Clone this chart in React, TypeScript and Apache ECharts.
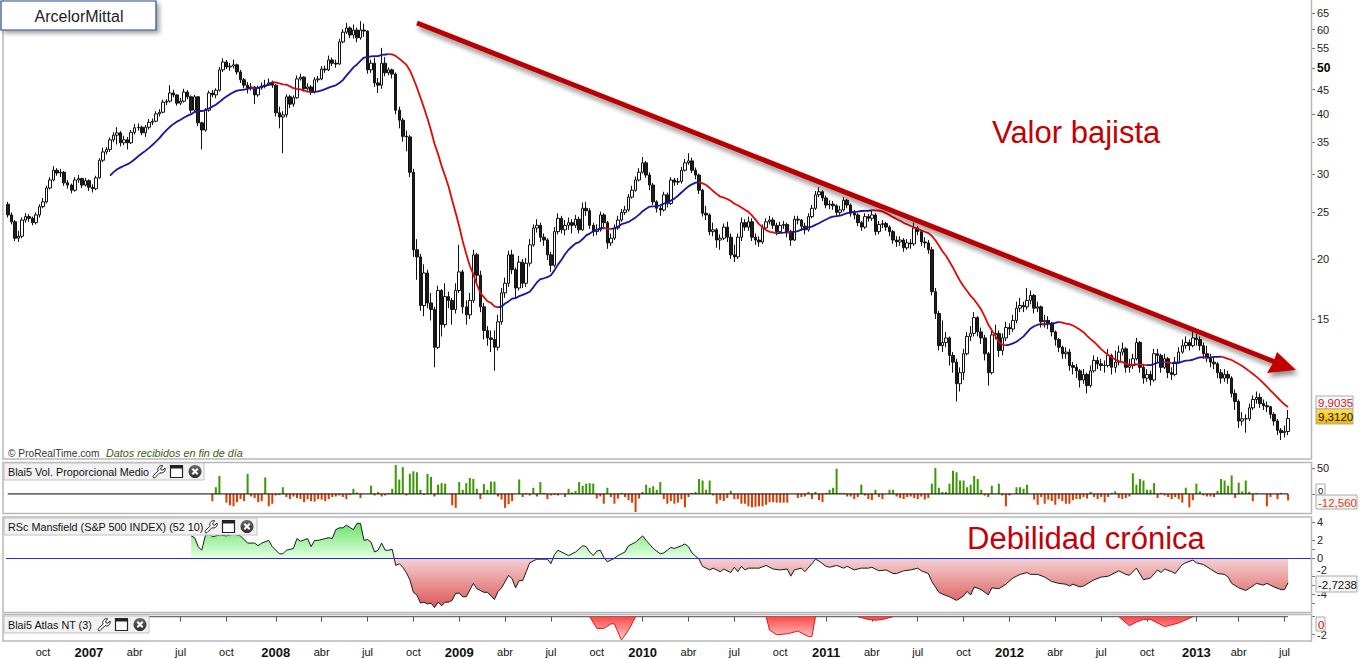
import React, { useEffect, useRef } from 'react';
import * as echarts from 'echarts';

const FONT = "'Liberation Sans', Arial, sans-serif";

// ---------- categories: weekly bars starting 2006-07-24 ----------
const START_UTC = Date.UTC(2006, 6, 24);
const N_WEEKS = 364;
const N_SLOTS = 370; // a few empty weeks at the right edge
const MONTHS = ['ene', 'feb', 'mar', 'abr', 'may', 'jun', 'jul', 'ago', 'sep', 'oct', 'nov', 'dic'];

// ---------- price data (weekly) ----------
const FIRST_OPEN = 26.0;
const closes = [
  24.7, 23.9, 22.1, 22.3, 24.1, 24.5, 24.3, 23.8, 24.7, 25.7,
  26.3, 28.1, 29.2, 30.6, 30.2, 30.3, 28.8, 28.5, 27.8, 29.2,
  29.4, 28.5, 29.1, 28.2, 28.0, 29.5, 32.1, 33.4, 33.8, 35.4,
  36.2, 36.6, 34.9, 35.4, 34.9, 36.7, 37.5, 37.6, 36.6, 37.6,
  38.5, 38.7, 40.1, 40.4, 42.4, 42.6, 44.3, 43.9, 42.2, 42.6,
  44.5, 43.5, 40.8, 43.5, 38.4, 37.1, 40.8, 44.3, 43.9, 44.9,
  49.5, 51.4, 50.2, 50.4, 50.7, 49.0, 47.2, 46.0, 45.4, 45.6,
  43.9, 45.4, 45.8, 46.0, 46.5, 46.0, 40.3, 39.5, 39.9, 43.5,
  42.0, 43.3, 47.4, 47.8, 45.2, 45.6, 44.5, 47.2, 47.4, 49.7,
  49.5, 51.9, 51.1, 50.9, 56.6, 59.3, 60.5, 58.5, 59.9, 57.7,
  59.9, 59.6, 49.5, 51.1, 46.5, 46.0, 51.1, 48.8, 49.5, 48.5,
  40.8, 38.9, 36.0, 35.9, 30.3, 20.9, 20.2, 16.0, 18.7, 16.2,
  15.7, 13.1, 17.2, 14.6, 16.7, 16.4, 15.7, 17.2, 18.8, 15.9,
  15.3, 16.4, 20.4, 18.5, 15.9, 14.2, 13.7, 13.6, 13.1, 14.8,
  17.0, 17.8, 20.4, 19.0, 17.4, 19.7, 17.8, 19.6, 21.4, 23.2,
  23.5, 22.2, 21.9, 20.4, 19.4, 22.8, 24.3, 23.0, 23.5, 23.8,
  23.5, 24.2, 23.0, 25.5, 25.2, 23.5, 22.8, 23.0, 24.7, 23.8,
  21.6, 22.1, 23.2, 24.1, 25.0, 25.3, 26.9, 27.8, 29.2, 30.3,
  31.7, 29.9, 28.5, 26.3, 25.5, 25.3, 27.2, 26.1, 29.2, 28.9,
  29.0, 30.6, 31.7, 32.0, 30.6, 29.9, 27.8, 24.9, 24.7, 22.8,
  23.0, 21.9, 22.1, 23.3, 22.2, 20.4, 20.2, 22.2, 23.8, 23.3,
  23.9, 22.2, 21.9, 21.7, 23.2, 23.9, 24.1, 23.5, 22.8, 23.5,
  23.6, 22.8, 21.9, 24.2, 24.1, 23.4, 23.0, 24.5, 25.5, 27.2,
  27.6, 26.8, 25.9, 26.0, 25.8, 25.0, 25.3, 26.5, 25.9, 24.9,
  24.7, 23.8, 23.3, 24.5, 24.3, 24.7, 22.8, 23.6, 23.7, 23.3,
  22.8, 21.9, 21.7, 21.9, 21.1, 21.6, 21.5, 23.2, 22.8, 21.7,
  21.6, 20.9, 17.1, 15.4, 13.2, 13.4, 13.7, 12.6, 12.2, 11.0,
  11.6, 12.7, 13.8, 14.0, 15.1, 14.1, 13.7, 12.7, 11.6, 13.9,
  14.0, 12.9, 13.7, 14.4, 14.3, 14.9, 15.8, 16.0, 15.9, 16.4,
  16.8, 15.8, 15.9, 14.8, 14.9, 14.7, 14.1, 13.6, 13.1, 12.7,
  12.8, 12.0, 11.9, 11.7, 11.2, 11.5, 10.9, 11.7, 12.3, 12.1,
  12.0, 12.0, 12.6, 11.9, 12.2, 12.8, 13.0, 11.9, 12.0, 12.4,
  13.4, 11.9, 11.3, 11.5, 11.2, 12.7, 12.6, 11.9, 12.4, 11.6,
  11.5, 12.2, 12.8, 13.2, 13.4, 13.2, 13.7, 13.6, 13.2, 12.7,
  12.5, 12.2, 12.1, 11.6, 11.3, 11.5, 11.3, 10.5, 10.1, 9.2,
  9.3, 9.3, 9.8, 10.2, 10.3, 10.0, 9.9, 9.85, 9.5, 9.2,
  8.8, 8.7, 8.75, 9.31,
];
const highs = [
  26.3, 25.0, 24.1, 22.9, 24.4, 24.9, 24.8, 24.5, 25.0, 26.0,
  26.8, 28.4, 29.6, 31.2, 30.9, 30.8, 30.5, 29.2, 28.7, 29.6,
  29.9, 29.5, 29.5, 29.3, 28.6, 29.8, 32.4, 34.1, 34.2, 35.8,
  36.7, 37.6, 36.9, 36.1, 35.9, 37.1, 38.2, 38.3, 37.9, 38.0,
  39.1, 39.2, 40.6, 41.0, 42.9, 43.0, 46.0, 45.0, 44.0, 43.3,
  45.2, 44.9, 43.8, 43.9, 43.6, 38.6, 41.2, 44.8, 45.0, 45.3,
  50.2, 52.3, 51.9, 51.2, 52.0, 51.0, 49.5, 47.6, 46.7, 46.5,
  45.8, 45.9, 46.6, 47.2, 47.5, 47.0, 46.3, 41.5, 40.6, 44.0,
  43.9, 43.8, 48.2, 48.6, 48.0, 46.4, 46.0, 47.8, 48.1, 50.4,
  50.5, 53.0, 52.5, 52.0, 57.4, 60.2, 62.0, 61.0, 61.5, 60.6,
  62.5, 61.8, 59.8, 52.0, 52.5, 47.6, 55.0, 52.6, 50.1, 49.8,
  48.9, 41.5, 39.3, 37.0, 36.2, 30.8, 22.0, 20.5, 19.5, 19.0,
  17.0, 15.9, 17.6, 17.3, 17.8, 17.1, 16.6, 17.8, 21.4, 19.0,
  16.4, 17.0, 20.9, 20.6, 18.9, 16.2, 14.5, 14.2, 14.2, 15.3,
  17.4, 18.3, 20.8, 20.9, 19.2, 20.3, 20.0, 20.1, 22.0, 23.6,
  24.2, 23.8, 22.6, 22.1, 20.7, 23.3, 24.9, 24.6, 24.1, 24.4,
  24.2, 24.7, 24.5, 26.2, 26.3, 25.5, 23.8, 23.6, 25.1, 24.9,
  24.0, 22.6, 23.6, 24.6, 25.4, 25.8, 27.3, 28.4, 29.7, 30.9,
  32.6, 32.0, 30.3, 28.8, 26.5, 25.9, 27.6, 27.5, 29.6, 29.5,
  29.5, 31.1, 32.3, 33.2, 32.5, 31.0, 30.1, 28.0, 25.8, 24.9,
  23.8, 23.2, 22.5, 23.7, 23.9, 22.6, 21.4, 22.6, 24.4, 24.2,
  24.5, 24.3, 22.6, 22.3, 23.6, 24.3, 24.6, 24.4, 23.8, 23.9,
  24.0, 23.8, 23.0, 24.6, 24.6, 24.2, 23.8, 24.9, 25.9, 27.7,
  28.2, 27.8, 27.1, 26.5, 26.4, 26.0, 25.8, 26.9, 26.7, 26.1,
  25.3, 24.9, 24.0, 24.9, 24.8, 25.2, 24.9, 24.0, 24.1, 23.9,
  23.5, 23.0, 22.3, 22.3, 22.1, 22.0, 22.0, 23.8, 23.4, 23.0,
  22.2, 21.9, 21.2, 17.4, 15.6, 14.9, 14.1, 13.8, 12.8, 12.4,
  11.9, 13.0, 14.1, 14.5, 15.5, 15.2, 14.4, 13.9, 12.8, 14.2,
  14.6, 14.2, 14.0, 14.8, 14.7, 15.3, 16.3, 16.6, 16.3, 17.4,
  17.2, 16.9, 16.3, 16.0, 15.3, 15.2, 14.8, 14.2, 13.7, 13.2,
  13.1, 13.0, 12.2, 12.1, 11.8, 11.8, 11.6, 12.0, 12.6, 12.5,
  12.4, 12.3, 13.0, 12.7, 12.9, 13.2, 13.4, 13.1, 12.4, 12.7,
  13.7, 13.5, 12.1, 11.8, 11.7, 13.0, 13.0, 12.7, 12.7, 12.5,
  11.9, 12.5, 13.1, 13.6, 13.8, 13.6, 14.3, 14.0, 13.8, 13.4,
  13.2, 12.7, 12.5, 12.2, 11.8, 11.8, 11.7, 11.4, 10.7, 10.2,
  9.6, 9.5, 10.0, 10.4, 10.6, 10.5, 10.2, 10.1, 9.9, 9.6,
  9.3, 8.9, 9.0, 9.7,
];
const lows = [
  24.4, 23.6, 21.8, 21.7, 22.1, 23.8, 23.9, 23.5, 23.6, 24.4,
  25.5, 26.1, 27.9, 29.0, 29.8, 29.6, 28.4, 28.0, 27.4, 27.6,
  28.8, 28.1, 28.3, 27.7, 27.5, 27.8, 29.4, 31.8, 33.0, 33.4,
  35.0, 34.6, 34.3, 34.5, 33.8, 34.7, 36.3, 37.0, 36.2, 35.9,
  37.2, 38.0, 38.5, 39.6, 40.2, 41.8, 42.3, 43.4, 41.7, 41.8,
  42.3, 43.0, 40.2, 40.3, 37.8, 33.8, 36.8, 40.5, 43.4, 43.2,
  44.6, 49.0, 49.7, 49.3, 49.8, 48.4, 46.5, 45.3, 44.2, 44.8,
  42.0, 43.5, 45.0, 45.3, 45.8, 45.4, 39.6, 37.4, 33.2, 39.4,
  41.2, 41.5, 43.1, 47.0, 44.6, 44.8, 43.9, 44.2, 46.6, 47.1,
  48.8, 49.2, 50.4, 50.0, 50.7, 56.2, 58.8, 57.6, 57.5, 56.5,
  57.2, 58.0, 48.6, 48.8, 45.6, 44.3, 45.2, 48.0, 48.2, 47.5,
  40.0, 37.4, 35.1, 33.5, 29.6, 20.2, 18.1, 15.6, 15.2, 15.8,
  14.9, 11.9, 13.0, 13.8, 14.4, 15.8, 14.6, 15.4, 17.0, 15.4,
  14.6, 15.0, 16.2, 17.9, 15.5, 13.6, 13.2, 12.8, 11.7, 12.9,
  14.6, 16.6, 17.5, 18.6, 16.5, 17.2, 17.4, 17.5, 19.3, 21.2,
  22.7, 21.7, 21.3, 19.9, 18.8, 19.2, 22.5, 22.6, 22.4, 23.0,
  22.6, 23.2, 22.6, 22.9, 24.6, 23.1, 22.3, 22.4, 22.8, 23.3,
  21.0, 21.3, 21.9, 23.0, 23.9, 24.7, 25.1, 26.7, 27.6, 29.0,
  30.1, 29.5, 27.8, 25.9, 25.0, 24.6, 25.1, 25.6, 25.9, 28.4,
  28.5, 28.7, 30.4, 31.4, 30.2, 29.3, 27.3, 24.5, 24.1, 22.4,
  22.3, 21.1, 20.9, 21.9, 21.7, 20.0, 19.7, 20.0, 21.8, 22.9,
  22.9, 21.8, 21.4, 21.2, 21.5, 23.0, 23.6, 23.1, 22.4, 22.6,
  23.1, 22.2, 21.3, 21.8, 23.6, 22.9, 22.5, 22.8, 24.3, 25.3,
  26.9, 26.4, 25.5, 25.4, 25.3, 24.6, 24.7, 25.1, 25.5, 24.5,
  24.2, 23.4, 22.9, 23.1, 23.9, 24.0, 22.4, 22.5, 23.2, 22.9,
  22.3, 21.5, 21.2, 21.3, 20.7, 20.9, 21.0, 21.3, 22.4, 21.3,
  21.1, 20.5, 16.8, 15.0, 12.9, 12.8, 13.1, 12.0, 11.6, 10.1,
  10.6, 11.2, 12.6, 13.5, 13.8, 13.8, 13.3, 12.3, 10.9, 11.5,
  13.6, 12.5, 12.6, 13.5, 13.9, 14.1, 14.7, 15.5, 15.5, 15.7,
  16.1, 15.4, 15.5, 14.4, 14.4, 14.3, 13.8, 13.2, 12.8, 12.4,
  12.4, 11.7, 11.5, 11.3, 10.8, 11.0, 10.5, 10.8, 11.6, 11.8,
  11.7, 11.6, 11.9, 11.5, 11.6, 12.0, 12.6, 11.6, 11.6, 11.8,
  12.3, 11.6, 11.0, 11.1, 10.9, 11.1, 12.2, 11.6, 11.8, 11.3,
  11.2, 11.4, 12.1, 12.7, 13.0, 12.9, 13.1, 13.2, 12.9, 12.4,
  12.2, 11.9, 11.8, 11.3, 11.0, 11.1, 11.0, 10.3, 9.7, 8.9,
  9.0, 8.7, 9.2, 9.7, 10.0, 9.8, 9.7, 9.6, 9.3, 9.0,
  8.6, 8.4, 8.5, 8.6,
];
const MA_PERIOD = 20;
const MA_START = 29;
const priceTicks = [15, 20, 25, 30, 35, 40, 45, 50, 55, 60, 65];

// ---------- Blai5 Vol. Proporcional Medio (from week 58) ----------
const VOL_START = 58;
const volume = [
  -14, 13, 35, 0, -17, -22, -24, -16, -10, -14,
  39, -5, -8, -16, -14, 32, -24, -19, -3, -2,
  13, -6, -10, -5, -8, -10, -16, -10, -14, -15,
  -10, -11, -14, -10, -6, -5, -3, -6, -10, -2,
  10, 3, -8, 0, 0, 16, -3, 4, -5, -3,
  2, 10, 56, 28, 52, -3, 39, 44, 42, 8,
  -2, 39, 33, -5, 18, 21, 20, 0, -22, -27,
  23, 8, 21, 31, 29, 10, -10, 19, 8, 24,
  24, -5, -11, -27, -20, -14, 0, 28, -6, 2,
  -3, 12, -5, 23, 2, -10, -3, -2, -3, 0,
  -6, 10, 3, 6, 23, 16, 20, 21, 20, -9,
  -5, -19, 12, -6, -19, -9, 2, -6, -12, -17,
  -35, -9, 4, 18, 12, 15, 8, 23, -10, -19,
  -14, -19, -17, -10, -26, -6, 2, 4, 29, 26,
  8, 26, -3, -19, -12, -14, -8, 6, -10, -10,
  -19, -19, -24, -26, -25, -24, -24, -21, -16, -16,
  -17, -17, -17, -17, 0, 0, -8, -6, -5, 4,
  -10, 4, -12, -16, 2, 8, 12, 49, 2, 2,
  -5, -5, -10, -6, 18, -3, -10, -12, 8, -6,
  -10, 0, 8, 8, -5, -8, -10, -6, -5, -8,
  -10, -5, -11, -8, 20, 50, 12, 4, 4, 20,
  45, 42, 26, 26, 13, 18, 35, 29, 8, -3,
  -6, 16, 0, 20, -3, -24, -3, 0, 13, 13,
  10, 18, 0, -11, -21, -6, -19, -11, -14, -21,
  -10, -14, -19, -19, -12, -10, -10, -6, -9, 4,
  -6, -10, -6, -16, -6, 2, 5, -8, -10, -8,
  -5, 40, 18, 29, 26, 8, 8, 21, -8, 2,
  -3, -6, -10, -6, -10, -17, 12, -26, -12, 20,
  5, -3, -5, -5, -6, 6, 29, 26, 16, 36,
  -8, 22, 5, 26, 4, -14, 2, 0, 0, -24,
  -6, 0, -10, 2, 0, -12.56,
];

// ---------- RSc Mansfield (week index, value) ----------
const rscPoints: [number, number][] = [
  [52, 2.5], [53, 2.3], [54, 1.3], [55, 0.9], [56, 2.5], [57, 2.8], [58, 2.4], [60, 2.6], [62, 2.5], [64, 2.7],
  [66, 2.5], [68, 1.7], [70, 1.7], [71, 1.4], [72, 1.7], [74, 2.0], [75, 1.3], [77, 0.5], [78, 0.5], [79, 0.9],
  [81, 1.1], [82, 2.2], [83, 1.9], [85, 2.2], [86, 1.3], [87, 2.0], [88, 2.0], [90, 2.2], [91, 2.3], [92, 2.2],
  [93, 3.2], [94, 3.4], [95, 3.4], [96, 3.7], [98, 3.2], [99, 3.9], [100, 3.9], [101, 2.0], [102, 2.1], [103, 1.8],
  [104, 0.7], [105, 0.9], [106, 1.7], [107, 0.9], [108, 0.9], [109, 1.0], [110, -0.8], [111, -0.6], [112, -1.0], [113, -1.6],
  [114, -2.4], [115, -3.8], [116, -4.1], [117, -5.0], [118, -4.9], [119, -5.1], [120, -5.0], [121, -5.5], [122, -4.9], [123, -5.3],
  [124, -4.9], [125, -4.9], [126, -4.7], [127, -3.9], [128, -3.9], [129, -4.3], [130, -4.3], [132, -2.8], [133, -3.4], [135, -3.8],
  [136, -3.8], [138, -4.6], [139, -3.7], [140, -3.3], [142, -1.9], [143, -2.3], [144, -3.3], [145, -2.5], [146, -2.5], [147, -1.5],
  [148, -0.5], [150, -0.1], [151, -0.1], [153, -0.1], [154, -0.6], [155, 0.4], [156, 0.9], [157, 0.7], [159, 0.3], [161, 0.7],
  [163, 1.4], [164, 1.3], [165, 0.7], [166, 0.3], [167, 0.8], [168, 0.9], [169, 0.1], [170, -0.4], [172, 0.0], [173, 0.3],
  [175, 0.7], [176, 1.4], [178, 1.8], [180, 2.5], [181, 2.0], [183, 1.1], [185, 0.5], [186, 0.6], [187, 0.9], [188, 1.2],
  [189, 1.1], [191, 1.4], [192, 1.6], [193, 1.3], [194, 0.6], [196, -0.1], [197, -0.9], [199, -1.3], [200, -1.1], [202, -1.5],
  [203, -1.2], [205, -1.6], [206, -1.0], [207, -1.5], [208, -0.9], [209, -1.3], [210, -1.1], [212, -1.1], [213, -1.1], [215, -0.8],
  [217, -1.2], [219, -1.3], [221, -1.2], [222, -2.0], [223, -1.3], [225, -1.1], [226, -1.5], [228, -0.6], [229, -0.1], [230, -0.3],
  [232, -0.9], [233, -1.0], [235, -0.8], [237, -1.1], [238, -0.9], [240, -1.3], [242, -1.1], [244, -1.1], [245, -1.0], [247, -1.4],
  [249, -1.3], [251, -1.7], [252, -1.7], [254, -1.4], [256, -1.3], [258, -1.1], [259, -1.4], [261, -1.7], [262, -2.6], [263, -3.2],
  [264, -3.8], [265, -4.0], [267, -4.3], [269, -4.7], [271, -4.2], [272, -3.7], [273, -4.1], [274, -3.2], [276, -3.5], [278, -4.1],
  [279, -3.3], [281, -3.4], [283, -2.9], [285, -2.2], [287, -1.8], [289, -1.6], [290, -1.8], [292, -1.8], [294, -2.1], [296, -2.6],
  [298, -2.8], [300, -2.9], [301, -3.1], [302, -2.9], [304, -3.2], [305, -3.1], [308, -2.4], [310, -2.1], [312, -2.0], [313, -1.8],
  [315, -1.4], [317, -1.8], [318, -1.9], [320, -1.1], [322, -2.4], [324, -2.2], [326, -1.3], [327, -1.6], [328, -1.2], [330, -1.5],
  [331, -1.7], [333, -0.7], [334, -0.5], [336, -0.2], [337, -0.5], [339, -0.7], [341, -1.2], [343, -1.7], [345, -1.8], [346, -2.1],
  [347, -2.8], [349, -3.3], [351, -3.6], [353, -3.1], [354, -2.8], [356, -3.0], [357, -2.8], [359, -3.2], [361, -3.5], [362, -3.5],
  [363, -2.7238],
];

// ---------- Blai5 Atlas NT (3): negative episodes ----------
const atlasDips: [number, number][][] = [
  [[165, 0], [167, -1.3], [169, -1.3], [171, -0.8], [172, -0.8], [174, -2.6], [176, -1.5], [178, 0]],
  [[215, 0], [216, -1.5], [218, -2.0], [221, -1.9], [224, -1.6], [227, -2.2], [228, -2.2], [229, 0]],
  [[241, 0], [244, -0.3], [246, -0.4], [248, -0.3], [251, 0]],
  [[315, 0], [318, -1.0], [320, -0.6], [322, -0.3], [324, -0.3], [328, -1.1], [332, -0.7], [336, 0]],
];

// ---------- wrench icon ----------
const WRENCH_D =
  'M1.5 12.5 L6.8 7.2 C6.1 5.6 6.5 3.6 7.8 2.4 C9 1.3 10.6 1 12 1.5 L9.6 3.9 L10 5.9 L12 6.3 L14.4 3.9 C14.9 5.3 14.6 6.9 13.5 8.1 C12.3 9.3 10.4 9.8 8.8 9.1 L3.5 14.5 C3 15 2 15 1.5 14.5 C1 14 1 13 1.5 12.5 Z';
let wrenchRegistered = false;
function ensureWrench() {
  if (wrenchRegistered) return;
  echarts.graphic.registerShape('wrench', echarts.graphic.extendPath(WRENCH_D, {}));
  wrenchRegistered = true;
}

function buildCategories(): string[] {
  const out: string[] = [];
  for (let i = 0; i < N_SLOTS; i++) {
    out.push(new Date(START_UTC + i * 7 * 86400000).toISOString().slice(0, 10));
  }
  return out;
}

function headerBox(x: number, y: number, w: number, label: string, wx: number) {
  const els: any[] = [
    { type: 'rect', shape: { x, y, width: w, height: 17 }, style: { fill: '#f2f2f2', stroke: '#c2c2c2', lineWidth: 1 }, z: 100 },
    { type: 'text', x: x + 4, y: y + 9, style: { text: label, fill: '#111', fontSize: 10.8, fontFamily: FONT, align: 'left', verticalAlign: 'middle' }, z: 101 },
    { type: 'wrench', x: wx, y: y + 1.5, scaleX: 0.9, scaleY: 0.9, style: { fill: '#fff', stroke: '#222', lineWidth: 1.1 }, z: 101 },
    { type: 'rect', shape: { x: wx + 18.5, y: y + 2.5, width: 12, height: 12 }, style: { fill: '#fff', stroke: '#222', lineWidth: 1.2 }, z: 101 },
    { type: 'rect', shape: { x: wx + 18.5, y: y + 2.5, width: 12, height: 3 }, style: { fill: '#222' }, z: 102 },
    { type: 'circle', shape: { cx: wx + 43, cy: y + 8.5, r: 6.5 }, style: { fill: new echarts.graphic.LinearGradient(0, 0, 0, 1, [{ offset: 0, color: '#6a6a6a' }, { offset: 1, color: '#2e2e2e' }]) }, z: 101 },
    { type: 'line', shape: { x1: wx + 40.3, y1: y + 5.8, x2: wx + 45.7, y2: y + 11.2 }, style: { stroke: '#fff', lineWidth: 2 }, z: 102 },
    { type: 'line', shape: { x1: wx + 45.7, y1: y + 5.8, x2: wx + 40.3, y2: y + 11.2 }, style: { stroke: '#fff', lineWidth: 2 }, z: 102 },
  ];
  return els;
}

function valueBox(x: number, y: number, w: number, h: number, text: string, color: string, fill: any, fs = 11.5) {
  return [
    { type: 'rect', shape: { x, y, width: w, height: h }, style: { fill, stroke: '#aaaaaa', lineWidth: 1 }, z: 100 },
    { type: 'text', x: x + 2, y: y + h / 2 + 0.5, style: { text, fill: color, fontSize: fs, fontFamily: FONT, align: 'left', verticalAlign: 'middle' }, z: 101 },
  ];
}

function buildOption() {
  ensureWrench();
  const cats = buildCategories();
  const monthOf = (s: string) => Number(s.slice(5, 7)) - 1;
  const isQuarter = (i: number) => {
    if (i <= 0 || i >= cats.length) return false;
    const m = monthOf(cats[i]);
    return m % 3 === 0 && m !== monthOf(cats[i - 1]);
  };
  const ln = Math.log;

  const candles = closes.map((c, i) => {
    const o = i === 0 ? FIRST_OPEN : closes[i - 1];
    return [ln(o), ln(c), ln(lows[i]), ln(highs[i])];
  });

  // 20-week simple moving average of the closes, coloured by slope
  const sma: number[] = closes.map((_, i) => {
    if (i < MA_PERIOD - 1) return NaN;
    let s = 0;
    for (let j = i - MA_PERIOD + 1; j <= i; j++) s += closes[j];
    return s / MA_PERIOD;
  });
  const maUp: (number | null)[] = new Array(N_SLOTS).fill(null);
  const maDn: (number | null)[] = new Array(N_SLOTS).fill(null);
  for (let i = MA_START + 1; i < N_WEEKS; i++) {
    const a = sma[i - 1];
    const b = sma[i];
    const t = b >= a ? maUp : maDn;
    t[i - 1] = ln(a);
    t[i] = ln(b);
  }

  const volData: (number | null)[] = new Array(N_SLOTS).fill(null);
  volume.forEach((v, j) => (volData[VOL_START + j] = v));

  const LN_MAX = ln(65) + 13 / 208.7;
  const LN_MIN = ln(15) - 140 / 208.7;

  const gridBase = { left: 6, right: 51 };
  const grids = [
    { ...gridBase, top: 0, height: 459 },
    { ...gridBase, top: 463, height: 50 },
    { ...gridBase, top: 518, height: 94 },
    { ...gridBase, top: 614, height: 27 },
  ];

  const xAxes = [0, 1, 2, 3].map((g) => ({
    type: 'category',
    gridIndex: g,
    data: cats,
    boundaryGap: true,
    show: g === 3,
    axisLine: { show: false },
    axisTick: { show: g === 3, alignWithLabel: true, interval: (i: number) => isQuarter(i), length: 5, lineStyle: { color: '#555' } },
    axisLabel: {
      show: g === 3,
      interval: (i: number) => isQuarter(i),
      margin: 5,
      color: '#111',
      fontFamily: FONT,
      fontSize: 11,
      formatter: (v: string) => {
        const m = monthOf(v);
        return m === 0 ? '{y|' + v.slice(0, 4) + '}' : MONTHS[m];
      },
      rich: { y: { fontWeight: 'bold', fontSize: 13, color: '#111', fontFamily: FONT } },
    },
    splitLine: { show: false },
  }));

  const axisCommon = {
    type: 'value',
    position: 'right',
    axisLine: { show: false },
    splitLine: { show: false },
  };
  const labelCommon = { color: '#222', fontSize: 11, fontFamily: FONT, margin: 6 };
  const yAxes = [
    {
      ...axisCommon,
      gridIndex: 0,
      min: LN_MIN,
      max: LN_MAX,
      axisTick: { show: true, length: 4, customValues: priceTicks.map(ln), lineStyle: { color: '#777' } },
      axisLabel: {
        ...labelCommon,
        customValues: priceTicks.map(ln),
        formatter: (v: number) => {
          const p = Math.round(Math.exp(v));
          return p === 50 ? '{b|50}' : String(p);
        },
        rich: { b: { fontWeight: 'bold', fontSize: 12, color: '#000', fontFamily: FONT } },
      },
    },
    {
      ...axisCommon,
      gridIndex: 1,
      min: -37,
      max: 60,
      axisTick: { show: true, length: 4, customValues: [0, 50], lineStyle: { color: '#777' } },
      axisLabel: { ...labelCommon, customValues: [50] },
    },
    {
      ...axisCommon,
      gridIndex: 2,
      min: -6,
      max: 4.5,
      axisTick: { show: true, length: 4, customValues: [4, 2, 1, 0, -2, -3, -4, -5], lineStyle: { color: '#777' } },
      axisLabel: { ...labelCommon, customValues: [4, 2, 0, -4] },
    },
    {
      ...axisCommon,
      gridIndex: 3,
      min: -2.7,
      max: 0.3,
      axisTick: { show: true, length: 4, customValues: [0, -2], lineStyle: { color: '#777' } },
      axisLabel: { ...labelCommon, customValues: [-2] },
    },
  ];

  const rscGrad = {
    type: 'linear', x: 0, y: 518, x2: 0, y2: 612, global: true,
    colorStops: [
      { offset: 0, color: '#55e055' },
      { offset: 0.425, color: '#e4ffe4' },
      { offset: 0.426, color: '#f5d2d2' },
      { offset: 1, color: '#d84c4c' },
    ],
  };
  const atlasGrad = {
    type: 'linear', x: 0, y: 617, x2: 0, y2: 641, global: true,
    colorStops: [
      { offset: 0, color: '#ff4a4a' },
      { offset: 1, color: '#ffd4d4' },
    ],
  };

  const series: any[] = [
    {
      type: 'candlestick',
      xAxisIndex: 0,
      yAxisIndex: 0,
      data: candles,
      barWidth: 3,
      itemStyle: { color: '#ffffff', color0: '#1e1e1e', borderColor: '#111', borderColor0: '#111', borderWidth: 1 },
      z: 2,
    },
    { type: 'line', xAxisIndex: 0, yAxisIndex: 0, data: maUp, symbol: 'none', connectNulls: false, lineStyle: { color: '#1616a0', width: 1.8 }, z: 4 },
    { type: 'line', xAxisIndex: 0, yAxisIndex: 0, data: maDn, symbol: 'none', connectNulls: false, lineStyle: { color: '#dd0a0a', width: 1.8 }, z: 4 },
    {
      type: 'bar',
      xAxisIndex: 1,
      yAxisIndex: 1,
      data: volData,
      barWidth: 2,
      itemStyle: { color: (p: any) => (p.value >= 0 ? '#3a9900' : '#dd3c00') },
      z: 2,
    },
    { type: 'line', xAxisIndex: 1, yAxisIndex: 1, data: [[0, 0], [N_WEEKS - 1, 0]], symbol: 'none', lineStyle: { color: '#000', width: 1 }, z: 3 },
    {
      type: 'line',
      xAxisIndex: 2,
      yAxisIndex: 2,
      data: rscPoints,
      symbol: 'none',
      lineStyle: { color: '#1a1a1a', width: 1 },
      areaStyle: { color: rscGrad, opacity: 1 },
      markLine: {
        silent: true,
        symbol: ['none', 'none'],
        label: { show: false },
        lineStyle: { color: '#2a2ad6', width: 1, type: 'solid' },
        data: [{ yAxis: 0 }],
      },
      z: 3,
    },
    { type: 'line', xAxisIndex: 3, yAxisIndex: 3, data: [[0, 0], [N_WEEKS - 1, 0]], symbol: 'none', lineStyle: { color: '#6a6a6a', width: 1.2 }, z: 2 },
    ...atlasDips.map((d) => ({
      type: 'line',
      xAxisIndex: 3,
      yAxisIndex: 3,
      data: d,
      symbol: 'none',
      lineStyle: { color: '#e01818', width: 1 },
      areaStyle: { color: atlasGrad, opacity: 1 },
      z: 3,
    })),
  ];

  const frame = (y: number, h: number) => ({
    type: 'rect', silent: true, shape: { x: 3, y, width: 1308.5, height: h },
    style: { fill: 'none', stroke: '#b8b8b8', lineWidth: 1.5 }, z: 50,
  });
  const shadow = { shadowBlur: 5, shadowColor: 'rgba(0,0,0,0.45)', shadowOffsetX: 2, shadowOffsetY: 4 };

  const graphic: any[] = [
    frame(-1, 460),
    frame(462.5, 51),
    frame(517, 95.5),
    frame(614.5, 26.5),
    { type: 'rect', shape: { x: 1, y: 1, width: 155, height: 29 }, style: { fill: '#fff', stroke: '#2c4a8c', lineWidth: 1.2, shadowBlur: 4, shadowColor: 'rgba(0,0,0,0.35)', shadowOffsetX: 3, shadowOffsetY: 3 }, z: 100 },
    { type: 'text', x: 79, y: 16, style: { text: 'ArcelorMittal', fill: '#222', fontSize: 16, fontFamily: FONT, align: 'center', verticalAlign: 'middle' }, z: 101 },
    { type: 'text', x: 8, y: 453, style: { text: '© ProRealTime.com', fill: '#333', fontSize: 10.2, fontFamily: FONT, align: 'left', verticalAlign: 'middle' }, z: 101 },
    { type: 'text', x: 106, y: 453, style: { text: 'Datos recibidos en fin de día', fill: '#3d5a12', fontSize: 10.8, fontStyle: 'italic', fontFamily: FONT, align: 'left', verticalAlign: 'middle' }, z: 101 },
    { type: 'text', x: 992, y: 132, style: { text: 'Valor bajista', fill: '#c40000', fontSize: 31, fontFamily: FONT, align: 'left', verticalAlign: 'middle' }, z: 101 },
    { type: 'text', x: 967, y: 538, style: { text: 'Debilidad crónica', fill: '#c40008', fontSize: 31, fontFamily: FONT, align: 'left', verticalAlign: 'middle' }, z: 101 },
    { type: 'line', shape: { x1: 417, y1: 23, x2: 1275, y2: 362 }, style: { stroke: '#b80000', lineWidth: 5, ...shadow }, z: 90 },
    { type: 'polygon', shape: { points: [[1277, 352], [1296, 370], [1267, 373], [1273, 363]] }, style: { fill: '#c20000', ...shadow }, z: 91 },
    ...headerBox(4, 463, 200, 'Blai5 Vol. Proporcional Medio', 152),
    ...headerBox(4, 518, 253, 'RSc Mansfield (S&P 500 INDEX) (52 10)', 204),
    ...headerBox(4, 616, 145, 'Blai5 Atlas NT (3)', 97),
    ...valueBox(1316, 396, 37, 13, '9,9035', '#e0101a', '#fafafa'),
    ...valueBox(1316, 409, 37, 15, '9,3120', '#111', new echarts.graphic.LinearGradient(0, 0, 0, 1, [{ offset: 0, color: '#ffe24a' }, { offset: 1, color: '#f0b400' }])),
    // zero label of the volume pane, just above the current-value box
    ...valueBox(1316, 484, 9, 11, '0', '#222', '#ffffff', 9.5),
    ...valueBox(1316, 495, 41, 14, '-12,560', '#e03a10', '#f6f6f6'),
    // -2 label of the RSc pane, just above the current-value box
    { type: 'text', x: 1317, y: 570, style: { text: '-2', fill: '#222', fontSize: 11, fontFamily: FONT, align: 'left', verticalAlign: 'middle' }, z: 101 },
    ...valueBox(1316, 576, 41, 16, '-2,7238', '#111', '#f6f6f6'),
    ...valueBox(1316, 617, 9, 14, '0', '#e01010', '#f6f6f6'),
  ];

  return {
    animation: false,
    backgroundColor: '#ffffff',
    textStyle: { fontFamily: FONT },
    grid: grids,
    xAxis: xAxes,
    yAxis: yAxes,
    series,
    graphic,
  };
}

export default function App() {
  const ref = useRef<HTMLDivElement>(null);
  useEffect(() => {
    document.body.style.margin = '0';
    if (!ref.current) return;
    const chart = echarts.init(ref.current, null, { renderer: 'svg', width: 1362, height: 659 });
    chart.setOption(buildOption() as any);
    return () => chart.dispose();
  }, []);
  return <div ref={ref} style={{ width: 1362, height: 659, background: '#fff' }} />;
}
